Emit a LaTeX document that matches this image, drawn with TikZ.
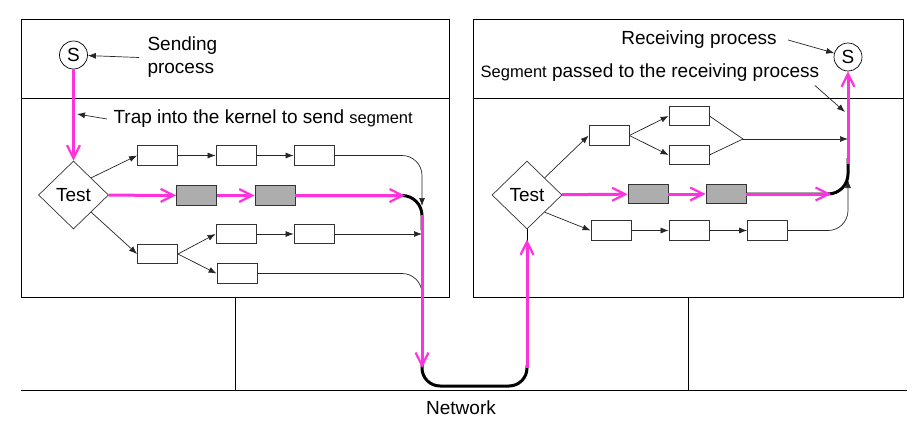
\documentclass[tikz,border=0pt]{standalone}
\usepackage{fontspec}
\setmainfont{Liberation Sans}
\usepackage{tikz}
\usetikzlibrary{positioning, calc}
\usetikzlibrary{shapes.geometric, arrows.meta}
\definecolor{segpink}{RGB}{255,51,221}

\begin{document}
\begin{tikzpicture}[x=1pt, y=-1pt, font=\fontsize{19}{23}\selectfont,
		host/.style={draw, line width=0.8pt, inner sep=0pt, minimum width=428pt, minimum height=278pt},
		blk/.style={draw=black!80, line width=0.8pt, fill=white, inner sep=0pt, minimum width=40pt, minimum height=19.5pt},
		gblk/.style={blk, fill=black!32},
		proc/.style={circle, draw, line width=0.7pt, inner sep=0pt, minimum size=28pt},
		chk/.style={diamond, draw=black!80, line width=0.7pt, inner sep=0pt, minimum width=70pt, minimum height=68pt},
		arr/.style={draw=black!85, line width=0.7pt, -{Latex[length=8pt, width=6pt]}},
		hop/.style={line width=3pt, rounded corners=20pt},
		pkt/.style={draw=segpink, line width=3pt, -{Straight Barb[length=13pt, width=13pt, line width=2.2pt]}}]
	\useasboundingbox (0,0) rectangle (919,434);
	% the two hosts and the network
	\node (lh) [host] at (235,158) {};
	\node (rh) [host, minimum width=430pt] at (688,158) {};
	\draw [line width=0.8pt] (lh.west |- 0,98) -- (lh.east |- 0,98);
	\draw [line width=0.8pt] (rh.west |- 0,98) -- (rh.east |- 0,98);
	\draw [line width=1pt] (21,390) coordinate (nw) -- (907,390) coordinate (ne);
	\node (net) at (461,408) {Network};
	\draw [line width=0.8pt] (lh.south) -- (lh.south |- nw);
	\draw [line width=0.8pt] (rh.south) -- (rh.south |- nw);

	% sending side
	\node (sl) [proc] at (73.5,55) {S};
	\node (sltxt) [anchor=west, align=left] at (144,57.5) {Sending\\process};
	\draw [arr] ([xshift=-5pt]sltxt.west) -- (sl);
	\node (tl) [chk] at (73.5,195) {Test};
	\node (trap) [anchor=west] at (110,119) {Trap into the kernel to send {\fontsize{16.5}{20}\selectfont segment}};
	\coordinate (trapend) at (77,114);
	\draw [arr] ([xshift=-3pt]trap.west) -- (trapend);

	\node (a1) [blk] at (157.5,155.5) {};
	\node (a2) [blk] at (236,155.5) {};
	\node (a3) [blk] at (314,155.5) {};
	\node (g1) [gblk] at (196.5,195.5) {};
	\node (g2) [gblk] at (275,195.5) {};
	\node (b1) [blk] at (157.5,254) {};
	\node (b2) [blk] at (236,234) {};
	\node (b3) [blk] at (314,234) {};
	\node (b4) [blk] at (237,273.5) {};
	\coordinate (lm) at (422,206);
	\coordinate (lt) at (405,195.5);
	\coordinate (ld) at (422,368);
	\coordinate (nb) at (475,386);
	\coordinate (rd) at (527,368);

	\draw [arr] (tl.north east) -- (a1.west);
	\draw [arr] (a1) -- (a2);
	\draw [arr] (a2) -- (a3);
	\draw [arr, rounded corners=20pt] (a3) -| (lm);
	\draw [arr] (tl.south east) -- (b1.west);
	\draw [arr] (b1.east) -- (b2.west);
	\draw [arr] (b1.east) -- (b4.west);
	\draw [arr] (b2) -- (b3);
	\draw [arr] (b3) -- (b3 -| lm);
	\draw [draw=black!85, line width=0.7pt, rounded corners=20pt] (b4) -| (lm |- lh.south);

	% receiving side
	\node (sr) [proc] at (848,57) {S};
	\node (rtxt) at (699,40) {Receiving process};
	\draw [arr] ([xshift=8pt]rtxt.east) -- (sr);
	\node (stxt) at (650,73) {{\fontsize{16.5}{20}\selectfont Segment} passed to the receiving process};
	\coordinate (rarr) at (845,112);
	\draw [arr] ([xshift=-8pt]stxt.south east) -- (rarr);
	\node (tr) [chk] at (527,195) {Test};

	\node (ra) [blk] at (609,135.5) {};
	\node (rb) [blk] at (689,116) {};
	\node (rc) [blk] at (689,155) {};
	\node (rg1) [gblk] at (648,194) {};
	\node (rg2) [gblk] at (726,194) {};
	\node (rd1) [blk] at (611,230.5) {};
	\node (rd2) [blk] at (689,230.5) {};
	\node (rd3) [blk] at (767.5,230.5) {};
	\coordinate (rj) at (743,139);
	\coordinate (rm) at (848,180);
	\coordinate (rt) at (831,194);

	\draw [arr] (tr.north east) -- (ra.west);
	\draw [arr] (ra.east) -- (rb.west);
	\draw [arr] (ra.east) -- (rc.west);
	\draw [draw=black!85, line width=0.7pt] (rb.east) -- (rj) -- (rc.east);
	\draw [arr] (rj) -- (rj -| rm);
	\draw [arr] (tr.south east) -- (rd1.west);
	\draw [arr] (rd1) -- (rd2);
	\draw [arr] (rd2) -- (rd3);
	\draw [arr, rounded corners=20pt] (rd3) -| (rm);

	% path of the segment
	\draw [hop] (g2.east) -| ($(lm)+(0,24)$);
	\draw [hop, rounded corners=18pt] ([yshift=3pt]ld) |- (nb) -| ([yshift=3pt]rd);
	\draw [hop] (rg2.east) -| ($(rm)+(0,-22)$);
	\draw [line width=1pt] (tr.south) -- ++(0,12);
	\draw [pkt] (sl) -- (tl);
	\draw [pkt] (tl) -- (g1);
	\draw [pkt] (g1) -- (g2);
	\draw [pkt] (g2) -- (lt);
	\draw [pkt] ($(lm)+(0,9)$) -- (ld);
	\draw [pkt] (rd) -- ([yshift=-10pt]tr.south);
	\draw [pkt] (tr) -- (rg1);
	\draw [pkt] (rg1) -- (rg2);
	\draw [pkt] (rg2) -- (rt);
	\draw [pkt] ($(rm)+(0,-16)$) -- (sr);
\end{tikzpicture}
\end{document}
